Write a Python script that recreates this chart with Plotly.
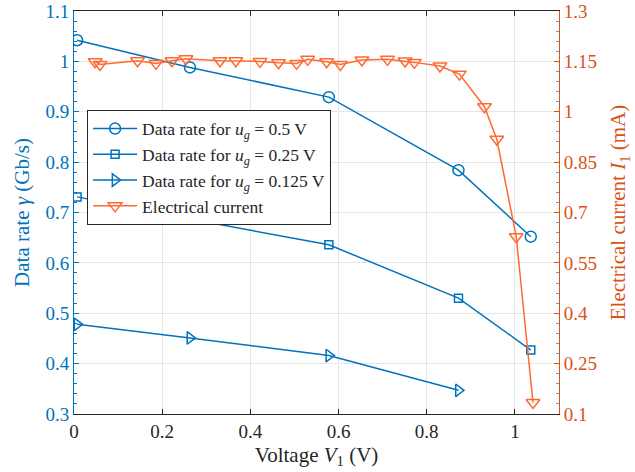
import plotly.graph_objects as go

# Data rate series (left axis)
v_rate = [0.007, 0.263, 0.578, 0.872, 1.036]
rate_05 = [1.042, 0.988, 0.929, 0.784, 0.652]
rate_025 = [0.731, 0.687, 0.636, 0.530, 0.427]
v_rate3 = [0.007, 0.263, 0.578, 0.872]
rate_0125 = [0.478, 0.451, 0.416, 0.347]

# Electrical current (right axis)
v_cur = [0.048, 0.059, 0.144, 0.186, 0.222, 0.254, 0.331, 0.367, 0.422, 0.464,
         0.505, 0.530, 0.573, 0.604, 0.653, 0.711, 0.751, 0.772, 0.830, 0.874,
         0.931, 0.959, 1.003, 1.041]
cur = [1.149, 1.141, 1.152, 1.144, 1.152, 1.158, 1.152, 1.152, 1.150, 1.146,
       1.144, 1.156, 1.149, 1.141, 1.154, 1.156, 1.151, 1.147, 1.136, 1.112,
       1.015, 0.918, 0.628, 0.134]

left_ticks = [0.3, 0.4, 0.5, 0.6, 0.7, 0.8, 0.9, 1.0, 1.1]
left_labels = ["0.3", "0.4", "0.5", "0.6", "0.7", "0.8", "0.9", "1", "1.1"]
right_ticks = [0.1, 0.25, 0.4, 0.55, 0.7, 0.85, 1.0, 1.15, 1.3]
right_labels = ["0.1", "0.25", "0.4", "0.55", "0.7", "0.85", "1", "1.15", "1.3"]
x_ticks = [0, 0.2, 0.4, 0.6, 0.8, 1.0]
x_labels = ["0", "0.2", "0.4", "0.6", "0.8", "1"]

BLUE = "#0072BD"
ORANGE = "#FF6A33"
AX_ORANGE = "#D95319"
DARK = "#262626"
FONT = "Liberation Serif"
TICK = 19
TITLE = 21

fig = go.Figure()
fig.add_trace(go.Scatter(x=v_rate, y=rate_05, mode="lines+markers",
                         name="Data rate for <i>u<sub>g</sub></i> = 0.5 V",
                         line=dict(color=BLUE, width=1.5),
                         marker=dict(symbol="circle-open", size=11, line=dict(width=1.5, color=BLUE))))
fig.add_trace(go.Scatter(x=v_rate, y=rate_025, mode="lines+markers",
                         name="Data rate for <i>u<sub>g</sub></i> = 0.25 V",
                         line=dict(color=BLUE, width=1.5),
                         marker=dict(symbol="square-open", size=8, line=dict(width=1.5, color=BLUE))))
fig.add_trace(go.Scatter(x=v_rate3, y=rate_0125, mode="lines+markers",
                         name="Data rate for <i>u<sub>g</sub></i> = 0.125 V",
                         line=dict(color=BLUE, width=1.5),
                         marker=dict(symbol="triangle-right-open", size=11, line=dict(width=1.5, color=BLUE))))
fig.add_trace(go.Scatter(x=v_cur, y=cur, mode="lines+markers", yaxis="y2",
                         name="Electrical current",
                         line=dict(color=ORANGE, width=1.5),
                         marker=dict(symbol="triangle-down-open", size=12, line=dict(width=1.5, color=ORANGE))))

fig.update_layout(
    width=635, height=472,
    margin=dict(l=74, r=76, t=11, b=58),
    paper_bgcolor="white", plot_bgcolor="white",
    font=dict(family=FONT, size=TICK, color=DARK),
    showlegend=True,
    legend=dict(x=0.027, y=0.755, xanchor="left", yanchor="top",
                bgcolor="white", bordercolor=DARK, borderwidth=1,
                font=dict(family=FONT, size=17.5, color=DARK),
                tracegroupgap=0, itemwidth=44),
    xaxis=dict(range=[0, 1.1], tickvals=x_ticks, ticktext=x_labels,
               showgrid=True, gridcolor="#E6E6E6", gridwidth=1,
               ticks="inside", ticklen=5, tickcolor=DARK,
               showline=True, linecolor=DARK, linewidth=1, mirror="ticks",
               zeroline=False, automargin=False,
               title=dict(text="Voltage <i>V</i><sub>1</sub> (V)", standoff=6,
                          font=dict(family=FONT, size=TITLE, color=DARK)),
               tickfont=dict(family=FONT, size=TICK, color=DARK)),
    yaxis=dict(range=[0.3, 1.1], tickvals=left_ticks, ticktext=left_labels,
               showgrid=True, gridcolor="#E6E6E6", gridwidth=1,
               ticks="inside", ticklen=5, tickcolor=BLUE,
               showline=True, linecolor=BLUE, linewidth=1,
               zeroline=False, automargin=False, ticklabeloverflow="allow",
               minor=dict(dtick=0.02, ticks="inside", ticklen=3, tickcolor=BLUE, showgrid=False),
               title=dict(text="Data rate <i>γ</i> (Gb/s)", standoff=10,
                          font=dict(family=FONT, size=TITLE, color=BLUE)),
               tickfont=dict(family=FONT, size=TICK, color=BLUE)),
    yaxis2=dict(range=[0.1, 1.3], tickvals=right_ticks, ticktext=right_labels,
                overlaying="y", side="right", showgrid=False,
                ticks="inside", ticklen=5, tickcolor=AX_ORANGE,
                showline=True, linecolor=AX_ORANGE, linewidth=1,
                zeroline=False, automargin=False, ticklabeloverflow="allow",
                minor=dict(dtick=0.03, tick0=0.1, ticks="inside", ticklen=3, tickcolor="#5B9BD5", showgrid=False),
                title=dict(text="Electrical current <i>I</i><sub>1</sub> (mA)", standoff=14,
                           font=dict(family=FONT, size=TITLE, color=AX_ORANGE)),
                tickfont=dict(family=FONT, size=TICK, color=AX_ORANGE)),
)

# remove the default 8px page margin so the figure sits at the window's corner
fig.write_html("out.html", config={"displayModeBar": False},
               post_script="document.body.style.margin='0';")
